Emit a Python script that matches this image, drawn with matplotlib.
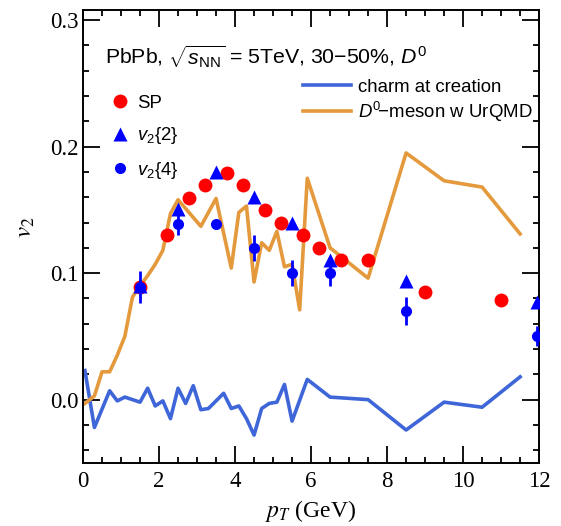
import numpy as np
import matplotlib
matplotlib.use("Agg")
import matplotlib.pyplot as plt
from matplotlib.lines import Line2D
from matplotlib.ticker import MultipleLocator

plt.rcParams['mathtext.fontset'] = 'custom'
plt.rcParams['mathtext.rm'] = 'Liberation Sans'
plt.rcParams['mathtext.it'] = 'Liberation Sans:italic'
plt.rcParams['mathtext.sf'] = 'Liberation Sans'

# data
sp_pt = [1.5, 2.2, 2.8, 3.2, 3.8, 4.2, 4.8, 5.2, 5.8, 6.2, 6.8, 7.5, 9.0, 11.0]
sp_v2 = [0.089, 0.130, 0.159, 0.170, 0.179, 0.170, 0.150, 0.140, 0.130, 0.120, 0.110, 0.110, 0.085, 0.079]

v22_pt = [1.5, 2.5, 3.5, 4.5, 5.5, 6.5, 8.5, 11.95]
v22_v2 = [0.090, 0.151, 0.180, 0.160, 0.140, 0.110, 0.094, 0.077]

v24_pt = [1.5, 2.5, 3.5, 4.5, 5.5, 6.5, 8.5, 11.95]
v24_v2 = [0.089, 0.139, 0.139, 0.120, 0.100, 0.100, 0.070, 0.050]
v24_err = [0.0125, 0.009, 0.003, 0.0105, 0.0105, 0.010, 0.011, 0.008]

charm_pt = [0.05, 0.3, 0.7, 0.9, 1.1, 1.5, 1.7, 1.9, 2.1, 2.3, 2.5, 2.7, 2.9, 3.1, 3.3,
            3.7, 3.9, 4.1, 4.3, 4.5, 4.7, 4.9, 5.1, 5.3, 5.5, 5.9, 6.5, 7.5, 8.5, 9.5,
            10.5, 11.5]
charm_v2 = [0.023, -0.022, 0.007, -0.001, 0.002, -0.002, 0.009, -0.005, -0.001, -0.015,
            0.009, -0.003, 0.011, -0.008, -0.007, 0.005, -0.007, -0.005, -0.015, -0.028,
            -0.007, -0.003, -0.002, 0.012, -0.017, 0.016, 0.002, 0.000, -0.024, -0.002,
            -0.006, 0.018]

d0_pt = [0.05, 0.3, 0.5, 0.7, 0.9, 1.1, 1.3, 1.5, 1.7, 1.9, 2.1, 2.3, 2.5, 3.1, 3.5,
         3.9, 4.1, 4.3, 4.5, 4.7, 4.9, 5.1, 5.3, 5.5, 5.7, 5.9, 6.5, 7.5, 8.5, 9.5,
         10.5, 11.5]
d0_v2 = [-0.003, 0.003, 0.022, 0.022, 0.035, 0.050, 0.081, 0.090, 0.098, 0.107, 0.118,
         0.147, 0.158, 0.137, 0.159, 0.104, 0.148, 0.153, 0.093, 0.124, 0.118, 0.133,
         0.105, 0.107, 0.071, 0.175, 0.120, 0.096, 0.195, 0.173, 0.168, 0.131]

fig = plt.figure(figsize=(5.61, 5.26), dpi=100)
ax = fig.add_axes([0.148, 0.12, 0.813, 0.861])

ax.plot(charm_pt, charm_v2, color='#3f66d8', lw=2.6, label='charm at creation', zorder=2)
ax.plot(d0_pt, d0_v2, color='#e49a3c', lw=2.6, label=r'$D^0\!$$-$meson w UrQMD', zorder=2)

ax.plot(sp_pt, sp_v2, 'o', color='red', ms=10, mec='none', zorder=3)
ax.plot(v22_pt, v22_v2, '^', color='blue', ms=9.5, mec='none', zorder=4)
ax.errorbar(v24_pt, v24_v2, yerr=v24_err, fmt='o', color='blue', ms=8, mec='none',
            elinewidth=2, capsize=0, zorder=5)

ax.set_xlim(0, 12)
ax.set_ylim(-0.05, 0.308)
ax.xaxis.set_major_locator(MultipleLocator(2))
ax.xaxis.set_minor_locator(MultipleLocator(0.5))
ax.yaxis.set_major_locator(MultipleLocator(0.1))
ax.yaxis.set_minor_locator(MultipleLocator(0.02))
ax.yaxis.set_major_formatter(matplotlib.ticker.FormatStrFormatter('%.1f'))
ax.tick_params(which='both', direction='in', top=True, right=True, width=1.3)
ax.tick_params(which='major', length=12, labelsize=16.5)
ax.tick_params(axis='x', which='major', pad=6)
ax.tick_params(axis='y', which='major', pad=3)
ax.tick_params(which='minor', length=4)
for lab in ax.get_xticklabels() + ax.get_yticklabels():
    lab.set_family('Liberation Serif')
for sp in ax.spines.values():
    sp.set_linewidth(1.4)

ax.set_xlabel('$p_T$ (GeV)', family='Liberation Serif', fontsize=17, math_fontfamily='stix',
              labelpad=4)
ax.set_ylabel('$v_2$', family='Liberation Serif', fontsize=18, math_fontfamily='stix')
ax.yaxis.set_label_coords(-0.10, 0.52)

ax.text(0.048, 0.881, r'PbPb, $\sqrt{s_{\rm NN}}$ = 5TeV, 30$-$50%, $D^0$',
        transform=ax.transAxes, family='Liberation Sans', fontsize=15.3, va='baseline')

pts = [Line2D([], [], ls='none', marker='o', color='red', ms=10, mec='none'),
       Line2D([], [], ls='none', marker='^', color='blue', ms=9.5, mec='none'),
       Line2D([], [], ls='none', marker='o', color='blue', ms=8, mec='none')]
leg1 = ax.legend(pts, ['SP', r'$v_2${2}', r'$v_2${4}'], loc='upper left',
                 bbox_to_anchor=(0.025, 0.85), frameon=False, handlelength=1.0,
                 handletextpad=0.4, labelspacing=0.72, prop={'family': 'Liberation Sans', 'size': 13.4})
ax.add_artist(leg1)
ax.legend(loc='upper left', bbox_to_anchor=(0.445, 0.885), frameon=False, handlelength=2.6,
          handletextpad=0.35, labelspacing=0.2, prop={'family': 'Liberation Sans', 'size': 13.4})

fig.savefig('out.png', dpi=100)
